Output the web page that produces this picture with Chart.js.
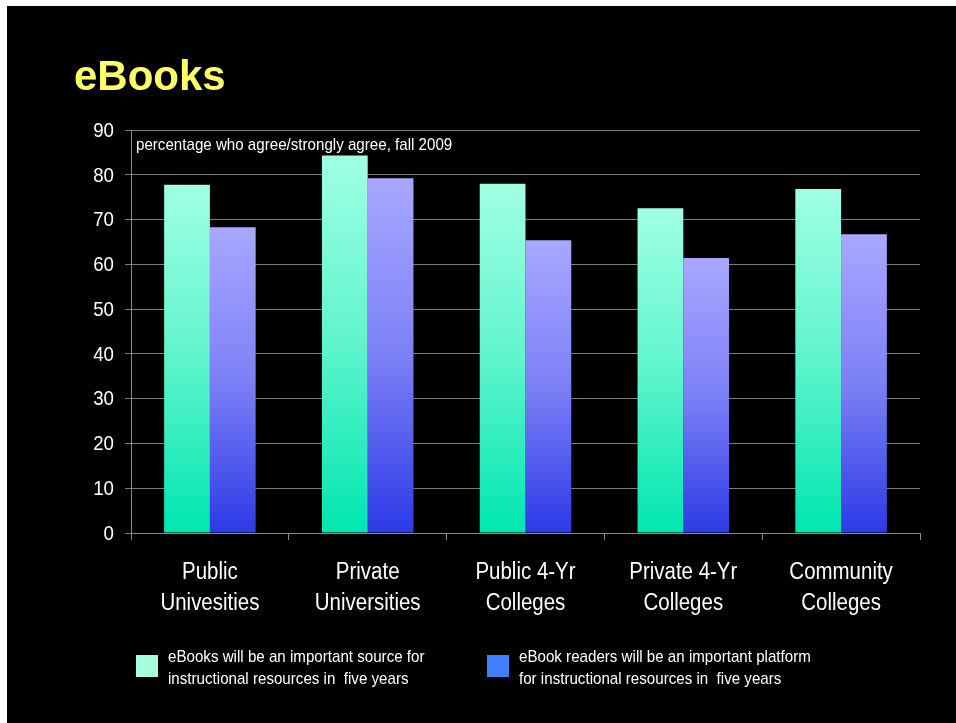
<!DOCTYPE html>
<html>
<head>
<meta charset="utf-8">
<script src="https://cdn.jsdelivr.net/npm/chart.js@4"></script>
<style>
  html, body { margin: 0; padding: 0; background: #fff; }
  #wrap { position: absolute; left: 7px; top: 6px; width: 949px; height: 717px; background: #000; }
</style>
</head>
<body>
<div id="wrap"><canvas id="my_chart" width="949" height="717"></canvas></div>
<script>
// chart values
const categories = [
    ['Public', 'Univesities'],
    ['Private', 'Universities'],
    ['Public 4-Yr', 'Colleges'],
    ['Private 4-Yr', 'Colleges'],
    ['Community', 'Colleges']
];
const ebook_source = [77.8, 84.3, 78.0, 72.5, 76.8];
const ebook_readers = [68.3, 79.2, 65.4, 61.4, 66.7];
const series_labels = [
    ['eBooks will be an important source for', 'instructional resources in  five years'],
    ['eBook readers will be an important platform', 'for instructional resources in  five years']
];
const y_ticks = [0, 10, 20, 30, 40, 50, 60, 70, 80, 90];
const title_text = 'eBooks';
const note_text = 'percentage who agree/strongly agree, fall 2009';

const sans = '"Liberation Sans", Arial, sans-serif';

const bar_gradient = (c, top_col, mid_col, bot_col) => {
    if (c.type !== 'data' || !c.chart.scales.y) return mid_col;
    const y = c.chart.scales.y;
    const y_top = y.getPixelForValue(c.raw);
    const y_bot = y.getPixelForValue(0);
    if (!isFinite(y_top) || !isFinite(y_bot) || y_top === y_bot) return mid_col;
    const g = c.chart.ctx.createLinearGradient(0, y_top, 0, y_bot);
    g.addColorStop(0, top_col);
    g.addColorStop(0.5, mid_col);
    g.addColorStop(1, bot_col);
    return g;
}

const legend_colors = ['#a6ffdc', '#4080ff'];

// narrow looking text: squeeze horizontally
const narrow_text = (ctx, txt, x, y, size, align) => {
    ctx.save();
    ctx.font = size + 'px ' + sans;
    ctx.textAlign = align || 'left';
    ctx.translate(x, y);
    ctx.scale(0.89, 1);
    ctx.fillText(txt, 0, 0);
    ctx.restore();
}

// title, note, axis labels and the two-line legend are drawn by hand
const extras = {
    id: 'extras',
    afterDraw(chart) {
        const ctx = chart.ctx;
        ctx.save();
        ctx.fillStyle = '#ffff66';
        ctx.font = 'bold 42px ' + sans;
        ctx.textBaseline = 'alphabetic';
        ctx.textAlign = 'left';
        ctx.fillText(title_text, 67, 84);

        ctx.fillStyle = '#ffffff';
        ctx.textBaseline = 'middle';
        narrow_text(ctx, note_text, 129, 139, 17);

        const xs = chart.scales.x;
        categories.forEach((lines, i) => {
            const cx = xs.getPixelForTick(i);
            lines.forEach((ln, j) => {
                narrow_text(ctx, ln, cx, 567 + j * 31, 23, 'center');
            });
        });

        const ys = chart.scales.y;
        y_ticks.forEach((v) => {
            narrow_text(ctx, String(v), 107, ys.getPixelForValue(v) + 1, 21, 'right');
        });

        const box_x = [129, 480];
        series_labels.forEach((lines, i) => {
            ctx.fillStyle = legend_colors[i];
            ctx.fillRect(box_x[i], 649, 22, 22);
            ctx.fillStyle = '#ffffff';
            lines.forEach((ln, j) => {
                narrow_text(ctx, ln, box_x[i] + 32, 651 + j * 22, 17);
            });
        });
        ctx.restore();
    }
};

const ctx = document.getElementById('my_chart');
new Chart(ctx, {
    type: 'bar',
    data: {
        labels: categories,
        datasets: [
            {
                label: series_labels[0].join(' '),
                data: ebook_source,
                backgroundColor: (c) => bar_gradient(c, '#a0ffe4', '#5ff4cc', '#00e6b0'),
                borderWidth: 0
            },
            {
                label: series_labels[1].join(' '),
                data: ebook_readers,
                backgroundColor: (c) => bar_gradient(c, '#a8a8ff', '#7c80f6', '#2c3ae6'),
                borderWidth: 0
            }
        ]
    },
    options: {
        responsive: false,
        animation: false,
        categoryPercentage: 0.58,
        barPercentage: 1,
        layout: { padding: { left: 0, right: 36, top: 124, bottom: 0 } },
        plugins: {
            legend: { display: false },
            title: { display: false },
            tooltip: { enabled: false }
        },
        scales: {
            x: {
                grid: { drawOnChartArea: false, drawTicks: true, tickLength: 7, color: '#8a8a8a', offset: true },
                border: { color: '#8a8a8a', width: 1 },
                ticks: {
                    color: 'rgba(0,0,0,0)',
                    font: { family: sans, size: 22, lineHeight: 1.36 },
                    padding: 15,
                    maxRotation: 0,
                    autoSkip: false
                },
                afterFit: (scale) => { scale.height = 190; }
            },
            y: {
                min: 0,
                max: 90,
                afterBuildTicks: (scale) => { scale.ticks = y_ticks.map(v => ({ value: v })); },
                grid: { color: '#7a7a7a', tickLength: 6, lineWidth: 1 },
                border: { color: '#8a8a8a', width: 1 },
                ticks: {
                    color: 'rgba(0,0,0,0)',
                    font: { family: sans, size: 19 },
                    padding: 11
                },
                afterFit: (scale) => { scale.width = 124; }
            }
        }
    },
    plugins: [extras]
});
</script>
</body>
</html>
